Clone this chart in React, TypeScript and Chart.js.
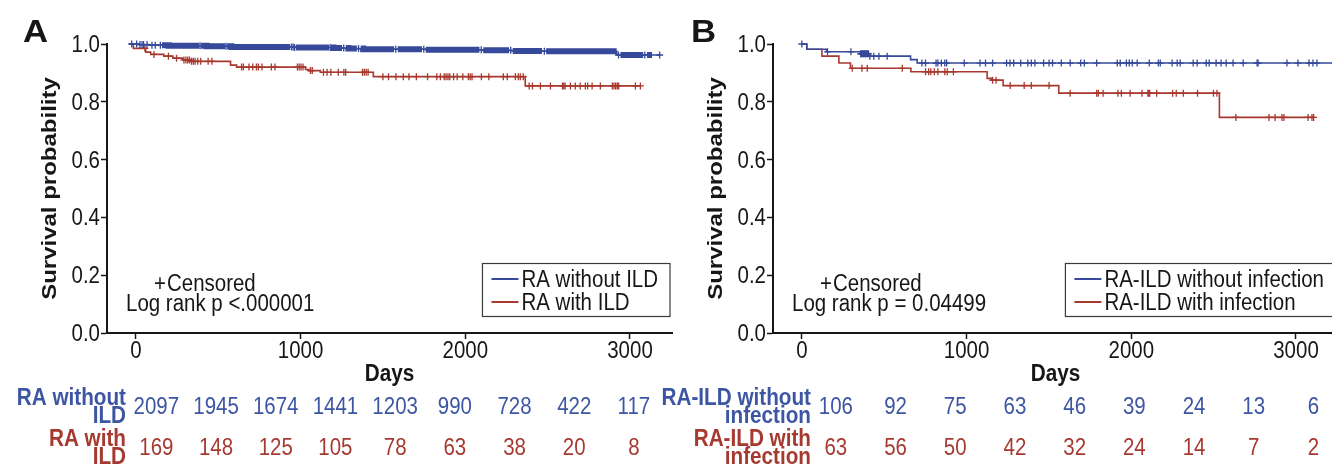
import React, { useEffect, useRef } from "react";
import { Chart, registerables } from "chart.js";

Chart.register(...registerables);

const FONT = '"Liberation Sans", Arial, Helvetica, sans-serif';

// ---------- shared axes ----------
const xTickValues = [0, 1000, 2000, 3000];
const yTickValues = [0, 0.2, 0.4, 0.6, 0.8, 1.0];

// ---------- Panel A ----------
const aSeriesNames = ["RA without ILD", "RA with ILD"];
const aRiskLabels = [["RA without", "ILD"], ["RA with", "ILD"]];
const aPText = "Log rank p <.000001";

const aBlueDays = [-40, 20, 80, 200, 430, 580, 960, 1200, 1290, 1380, 1760, 2100, 2280, 2470, 2920];
const aBlueSurv = [1.0, 0.998, 0.996, 0.994, 0.992, 0.99, 0.988, 0.986, 0.984, 0.982, 0.98, 0.978, 0.976, 0.975, 0.962];
const aBlueLastDay = 3180;
const aBlueCensorDays = [-25, 5, 25, 38, 47, 68, 98, 118, 149, 390, 548, 945, 955, 963, 1180, 1262, 1352, 1578, 1748, 2097, 2276, 2480, 2930, 3090, 3180];
const aBlueDenseRanges = [
  [159, 385], [396, 543], [554, 937], [971, 1173], [1185, 1252], [1275, 1342], [1365, 1568],
  [1590, 1737], [1760, 2086], [2109, 2266], [2288, 2466], [2491, 2919], [2942, 3080], [3103, 3134],
];

const aRedDays = [-40, -15, 60, 90, 170, 225, 285, 335, 575, 612, 1030, 1050, 1120, 1442, 2364];
const aRedSurv = [1.0, 0.985, 0.972, 0.964, 0.958, 0.951, 0.945, 0.94, 0.927, 0.92, 0.912, 0.908, 0.902, 0.887, 0.855];
const aRedLastDay = 3063;
const aRedCensorDays = [
  55, 110, 198, 247, 292, 304, 315, 326, 338, 349, 360, 376, 394, 439, 462, 642, 653, 687, 710, 732, 744, 766,
  823, 845, 981, 992, 1003, 1015, 1060, 1071, 1139, 1161, 1184, 1229, 1263, 1274, 1376, 1387, 1398, 1410, 1500,
  1534, 1579, 1624, 1658, 1703, 1771, 1827, 1849, 1872, 1883, 1895, 1906, 1929, 1951, 1985, 2019, 2030, 2041,
  2098, 2143, 2231, 2255, 2304, 2322, 2334, 2352, 2388, 2408, 2456, 2517, 2590, 2598, 2606, 2638, 2668, 2698,
  2729, 2743, 2770, 2820, 2893, 2903, 2913, 2923, 2931, 3033, 3063,
];

const aRiskBlue = [2097, 1945, 1674, 1441, 1203, 990, 728, 422, 117];
const aRiskRed = [169, 148, 125, 105, 78, 63, 38, 20, 8];

// ---------- Panel B ----------
const bSeriesNames = ["RA-ILD without infection", "RA-ILD with infection"];
const bRiskLabels = [["RA-ILD without", "infection"], ["RA-ILD with", "infection"]];
const bPText = "Log rank p = 0.04499";

const bBlueDays = [0, 30, 150, 355, 410, 660, 700];
const bBlueSurv = [1.0, 0.982, 0.973, 0.966, 0.958, 0.946, 0.934];
const bBlueLastDay = 3240;
const bBlueCensorDays = [
  0, 156, 298, 357, 363, 369, 375, 381, 387, 393, 399, 405, 413, 437, 468, 518, 729, 751, 815, 826, 847, 868, 879,
  986, 1082, 1115, 1158, 1243, 1264, 1286, 1329, 1372, 1393, 1415, 1468, 1501, 1522, 1575, 1629, 1693, 1715, 1790,
  1915, 1933, 1970, 1988, 2006, 2036, 2109, 2164, 2176, 2248, 2279, 2297, 2376, 2400, 2455, 2473, 2515, 2545, 2576,
  2618, 2679, 2764, 2770, 2945, 3012, 3079, 3103, 3127, 3240,
];

const bRedDays = [0, 30, 122, 225, 295, 662, 1125, 1150, 1222, 1560, 2535];
const bRedSurv = [1.0, 0.982, 0.958, 0.934, 0.916, 0.904, 0.881, 0.875, 0.856, 0.83, 0.746];
const bRedLastDay = 3107;
const bRedCensorDays = [
  306, 365, 397, 610, 751, 770, 783, 804, 826, 868, 883, 920, 1158, 1179, 1265, 1350, 1393, 1501, 1629, 1790, 1800,
  1829, 1919, 1940, 1993, 2065, 2101, 2106, 2112, 2154, 2251, 2273, 2316, 2402, 2499, 2520, 2635, 2836, 2873, 2915,
  2927, 3073, 3097, 3107,
];

const bRiskBlue = [106, 92, 75, 63, 46, 39, 24, 13, 6];
const bRiskRed = [63, 56, 50, 42, 32, 24, 14, 7, 2];

// ---------- styles ----------
const BLUE = "#36499a";
const RED = "#a8392f";
const BLUE_TXT = "#3d56a3";
const RED_TXT = "#a63a31";
const INK = "#161616";
const FS = 23; // font size
const SX = 0.89; // horizontal glyph squeeze

type Panel = {
  letter: string;
  letterDx: number;
  names: string[];
  riskLabels: string[][];
  pText: string;
  blue: { days: number[]; surv: number[]; last: number; cens: number[]; dense?: number[][] };
  red: { days: number[]; surv: number[]; last: number; cens: number[] };
  riskBlue: number[];
  riskRed: number[];
  riskLabelDx: number;
  riskOffset: number;
  canvasLeft: number;
  canvasWidth: number;
};

const panelA: Panel = {
  letter: "A",
  letterDx: -84,
  names: aSeriesNames,
  riskLabels: aRiskLabels,
  pText: aPText,
  blue: { days: aBlueDays, surv: aBlueSurv, last: aBlueLastDay, cens: aBlueCensorDays, dense: aBlueDenseRanges },
  red: { days: aRedDays, surv: aRedSurv, last: aRedLastDay, cens: aRedCensorDays },
  riskBlue: aRiskBlue,
  riskRed: aRiskRed,
  riskLabelDx: 19,
  riskOffset: 20.5,
  canvasLeft: 0,
  canvasWidth: 680,
};

const panelB: Panel = {
  letter: "B",
  letterDx: -82,
  names: bSeriesNames,
  riskLabels: bRiskLabels,
  pText: bPText,
  blue: { days: bBlueDays, surv: bBlueSurv, last: bBlueLastDay, cens: bBlueCensorDays },
  red: { days: bRedDays, surv: bRedSurv, last: bRedLastDay, cens: bRedCensorDays },
  riskBlue: bRiskBlue,
  riskRed: bRiskRed,
  riskLabelDx: 38,
  riskOffset: 34,
  canvasLeft: 600,
  canvasWidth: 746,
};

function stepAt(days: number[], surv: number[], t: number) {
  let s = surv[0];
  for (let i = 0; i < days.length; i++) {
    if (days[i] <= t) s = surv[i];
    else break;
  }
  return s;
}
function curvePoints(days: number[], surv: number[], last: number) {
  const pts: any[] = days.map((d, i) => ({ x: d, y: surv[i] }));
  pts.push({ x: last, y: surv[surv.length - 1] });
  return pts;
}
function censorPoints(days: number[], surv: number[], cens: number[]) {
  return cens.map((t) => ({ x: t, y: stepAt(days, surv, t) }));
}
function bandPoints(days: number[], surv: number[], ranges: number[][]) {
  const pts: any[] = [];
  ranges.forEach(([a, b]) => {
    pts.push({ x: a, y: stepAt(days, surv, a) });
    days.forEach((d, i) => {
      if (d > a && d <= b) pts.push({ x: d, y: surv[i] });
    });
    pts.push({ x: b, y: stepAt(days, surv, b) });
    pts.push({ x: b + 0.5, y: null });
  });
  return pts;
}

function txt(
  ctx: CanvasRenderingContext2D,
  s: string,
  x: number,
  y: number,
  align: CanvasTextAlign,
  font: string,
  sx = SX,
  rot = 0
) {
  ctx.save();
  ctx.translate(x, y);
  ctx.scale(sx, 1);
  if (rot) ctx.rotate(rot);
  ctx.font = font;
  ctx.textAlign = align;
  ctx.textBaseline = "alphabetic";
  ctx.fillText(s, 0, 0);
  ctx.restore();
}

function buildChart(canvas: HTMLCanvasElement, p: Panel) {
  const datasets: any[] = [];
  const lineDs = (data: any[], color: string, width: number) => ({
    data,
    borderColor: color,
    backgroundColor: color,
    borderWidth: width,
    stepped: "before",
    pointRadius: 0,
    fill: false,
    clip: false,
    borderCapStyle: "butt",
  });
  const censDs = (data: any[], color: string) => ({
    data,
    showLine: false,
    pointStyle: "cross",
    pointRadius: 3.5,
    pointBorderWidth: 1.3,
    pointBorderColor: color,
    pointBackgroundColor: color,
    borderColor: color,
    clip: false,
  });
  datasets.push(lineDs(curvePoints(p.blue.days, p.blue.surv, p.blue.last), BLUE, 1.6));
  if (p.blue.dense) datasets.push(lineDs(bandPoints(p.blue.days, p.blue.surv, p.blue.dense), BLUE, 6));
  datasets.push(censDs(censorPoints(p.blue.days, p.blue.surv, p.blue.cens), BLUE));
  datasets.push(lineDs(curvePoints(p.red.days, p.red.surv, p.red.last), RED, 1.6));
  datasets.push(censDs(censorPoints(p.red.days, p.red.surv, p.red.cens), RED));

  const textPlugin = {
    id: "kmText",
    afterDraw(chart: any) {
      const { ctx, chartArea: ca } = chart;
      const x = chart.scales.x;
      const y = chart.scales.y;
      const reg = `${FS}px ${FONT}`;
      const bold = `bold ${FS}px ${FONT}`;
      ctx.save();
      ctx.fillStyle = INK;

      // panel letter
      txt(ctx, p.letter, ca.left + p.letterDx, 42, "left", `bold 31px ${FONT}`, 1.12);

      // tick labels
      yTickValues.forEach((v) => txt(ctx, v.toFixed(1), ca.left - 7, y.getPixelForValue(v) + 8, "right", reg));
      xTickValues.forEach((v) => txt(ctx, String(v), x.getPixelForValue(v), 358, "center", reg));

      // axis titles
      txt(ctx, "Days", (ca.left + ca.right) / 2, 381, "center", bold, 0.9);
      txt(ctx, "Survival probability", ca.left - 51, (ca.top + ca.bottom) / 2, "center", `bold 24px ${FONT}`, 0.87, -Math.PI / 2);

      // censored / p value
      txt(ctx, "+", ca.left + 47, 291, "left", reg);
      txt(ctx, "Censored", ca.left + 60, 291, "left", reg);
      txt(ctx, p.pText, ca.left + 19, 311, "left", reg);

      // legend box
      ctx.font = reg;
      const tw = Math.max(...p.names.map((n) => ctx.measureText(n).width)) * SX;
      const boxR = ca.right - 2;
      const boxW = 9 + 27 + 3 + tw + 12;
      const boxL = boxR - boxW;
      ctx.strokeStyle = "#3a3a3a";
      ctx.lineWidth = 1.2;
      ctx.strokeRect(boxL, 263.5, boxW, 53);
      const rows = [279, 302];
      const cols = [BLUE, RED];
      rows.forEach((ry, i) => {
        ctx.strokeStyle = cols[i];
        ctx.lineWidth = 2;
        ctx.beginPath();
        ctx.moveTo(boxL + 9, ry);
        ctx.lineTo(boxL + 36, ry);
        ctx.stroke();
        ctx.fillStyle = INK;
        txt(ctx, p.names[i], boxL + 39, ry + 8, "left", reg);
      });

      // risk table
      const lx = ca.left + p.riskLabelDx;
      ctx.fillStyle = BLUE_TXT;
      txt(ctx, p.riskLabels[0][0], lx, 405, "right", bold, 0.9);
      txt(ctx, p.riskLabels[0][1], lx, 423, "right", bold, 0.9);
      ctx.fillStyle = RED_TXT;
      txt(ctx, p.riskLabels[1][0], lx, 446, "right", bold, 0.9);
      txt(ctx, p.riskLabels[1][1], lx, 464, "right", bold, 0.9);

      const x0 = x.getPixelForValue(0) + p.riskOffset;
      const step = 59.7;
      ctx.fillStyle = BLUE_TXT;
      p.riskBlue.forEach((n, i) => txt(ctx, String(n), x0 + i * step, 414, "center", reg));
      ctx.fillStyle = RED_TXT;
      p.riskRed.forEach((n, i) => txt(ctx, String(n), x0 + i * step, 455, "center", reg));

      ctx.restore();
    },
  };

  const axisCommon = {
    type: "linear",
    ticks: { display: false },
    grid: {
      display: true,
      drawOnChartArea: false,
      drawTicks: true,
      tickLength: 6,
      tickWidth: 1.5,
      tickColor: INK,
    },
    border: { display: true, color: INK, width: 2 },
  };

  const padLeft = p.canvasWidth - 680;

  return new Chart(canvas, {
    type: "line",
    data: { datasets },
    options: {
      animation: false,
      responsive: false,
      devicePixelRatio: 1,
      events: [],
      layout: { padding: { left: padLeft, right: 8, top: 44, bottom: 93 } },
      plugins: { legend: { display: false }, tooltip: { enabled: false } },
      scales: {
        x: {
          ...axisCommon,
          min: -175,
          max: 3255,
          afterFit: (s: any) => {
            s.height = 40;
          },
          afterBuildTicks: (s: any) => {
            s.ticks = xTickValues.map((v) => ({ value: v }));
          },
        },
        y: {
          ...axisCommon,
          min: 0,
          max: 1,
          afterFit: (s: any) => {
            s.width = 107;
          },
          afterBuildTicks: (s: any) => {
            s.ticks = yTickValues.map((v) => ({ value: v }));
          },
        },
      },
    } as any,
    plugins: [textPlugin],
  } as any);
}

export default function App() {
  const refA = useRef<HTMLCanvasElement>(null);
  const refB = useRef<HTMLCanvasElement>(null);
  useEffect(() => {
    const a = buildChart(refA.current!, panelA);
    const b = buildChart(refB.current!, panelB);
    return () => {
      a.destroy();
      b.destroy();
    };
  }, []);
  return (
    <div
      style={{
        position: "fixed",
        left: 0,
        top: 0,
        width: 1332,
        height: 466,
        overflow: "hidden",
        background: "#fff",
      }}
    >
      <canvas
        ref={refA}
        width={panelA.canvasWidth}
        height={466}
        style={{ position: "absolute", left: panelA.canvasLeft, top: 0 }}
      />
      <canvas
        ref={refB}
        width={panelB.canvasWidth}
        height={466}
        style={{ position: "absolute", left: panelB.canvasLeft, top: 0 }}
      />
    </div>
  );
}
